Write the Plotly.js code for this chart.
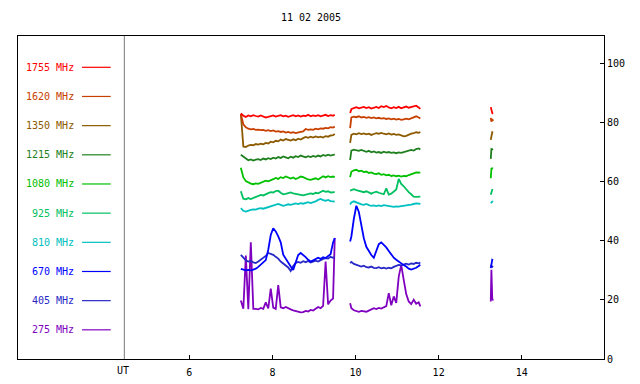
<!DOCTYPE html>
<html>
<head>
<meta charset="utf-8">
<script src="https://cdn.plot.ly/plotly-3.0.1.min.js"></script>
<style>html,body{margin:0;padding:0;background:#fff;}#chart{width:640px;height:384px;}</style>
</head>
<body>
<div id="chart"></div>
<script>
// ---- data ----
const freqLabels = ["1755 MHz","1620 MHz","1350 MHz","1215 MHz","1080 MHz","925 MHz","810 MHz","670 MHz","405 MHz","275 MHz"];

const T1 = [7.24,7.30,7.36,7.42,7.48,7.54,7.60,7.66,7.72,7.78,7.84,7.90,7.96,8.02,8.08,8.14,8.20,8.26,8.32,8.38,8.44,8.50,8.56,8.62,8.68,8.74,8.80,8.86,8.92,8.98,9.04,9.10,9.16,9.22,9.28,9.34,9.40,9.46,9.50];
const T2 = [9.87,9.90,9.96,10.02,10.08,10.14,10.20,10.26,10.32,10.38,10.44,10.50,10.56,10.62,10.68,10.74,10.80,10.86,10.92,10.98,11.04,11.10,11.16,11.22,11.28,11.34,11.40,11.46,11.52,11.56];
const T3 = [13.255,13.27,13.29,13.31];

const f1755_a = [83.2,82.4,82.0,82.5,82.2,82.6,82.3,82.1,82.5,82.2,81.8,82.0,82.3,82.5,82.1,82.4,82.6,82.2,82.4,82.0,82.3,82.6,82.2,82.5,82.1,82.4,82.3,82.7,82.2,82.5,82.3,82.6,82.2,82.4,82.7,82.3,82.6,82.4,82.7];
const f1755_b = [83.3,84.6,85.0,85.3,84.9,85.2,85.4,85.0,85.3,84.8,85.1,85.4,85.0,85.6,85.3,85.7,85.2,84.9,85.3,85.0,85.4,84.9,85.2,85.5,85.1,85.3,85.6,85.8,85.2,84.7];
const f1755_c = [85.3,84.0,83.3,83.1];

const f1620_a = [83.0,79.5,78.5,78.0,77.8,77.9,77.6,77.7,77.5,77.6,77.3,77.5,77.2,77.4,77.0,77.2,76.9,77.1,76.7,76.9,76.6,76.8,76.5,76.8,76.9,77.1,77.9,77.6,77.8,77.6,78.0,77.8,78.1,78.0,78.3,78.1,78.5,78.4,78.7];
const f1620_b = [78.2,81.8,82.1,81.9,82.2,81.8,82.0,81.7,81.9,81.6,81.8,81.5,81.7,81.4,81.6,81.3,81.5,81.2,81.4,81.1,81.3,81.0,81.2,81.4,81.2,81.6,81.9,82.2,81.8,81.5];
const f1620_c = [81.7,80.4,81.3,80.6];

const f1350_a = [83.0,72.0,71.8,72.3,72.5,72.4,72.8,72.6,72.9,72.7,73.2,73.0,73.6,73.4,73.9,73.7,74.3,74.0,74.5,74.2,74.0,74.4,74.1,74.6,74.3,74.8,75.2,74.9,75.3,75.0,75.4,75.1,75.3,75.0,75.5,75.3,75.7,75.8,76.2];
const f1350_b = [73.2,75.9,76.3,76.1,76.5,76.2,76.4,76.1,76.3,75.9,76.2,76.5,76.3,76.6,76.3,76.1,76.4,76.0,76.2,75.9,76.1,75.8,75.4,75.6,76.0,76.3,76.5,76.8,76.6,76.9];
const f1350_c = [74.2,76.4,76.8,76.6];

const f1215_a = [69.2,68.6,67.8,67.3,67.6,67.2,67.5,67.7,67.4,67.9,67.6,68.0,67.7,68.2,67.9,68.4,68.1,68.6,68.3,68.0,68.5,68.2,68.7,68.4,68.9,68.5,68.3,68.7,68.4,68.8,68.5,68.9,68.6,69.1,68.8,69.2,68.9,69.1,69.3];
const f1215_b = [67.4,70.6,70.9,70.7,70.5,70.8,70.4,70.2,70.5,70.0,70.3,69.9,70.1,69.8,70.2,69.9,70.1,69.8,70.0,69.7,70.0,69.8,70.1,70.3,70.5,70.8,70.6,71.1,71.3,71.0];
const f1215_c = [67.8,71.1,71.0,71.1];

const f1080_a = [64.8,61.5,60.3,59.7,59.4,59.2,59.5,59.3,59.7,60.0,60.4,60.2,60.7,60.9,61.3,61.0,61.6,61.3,61.8,61.4,61.1,61.5,61.0,61.3,61.8,61.6,61.2,60.8,60.7,60.9,61.2,60.8,61.4,61.9,61.5,61.9,61.6,61.8,61.6];
const f1080_b = [61.6,63.4,63.9,64.1,63.6,63.8,63.3,63.5,63.0,63.2,62.8,62.6,62.9,62.4,62.6,62.2,62.4,62.0,62.2,61.9,62.1,61.8,62.0,61.9,62.3,62.5,62.9,63.2,63.0,63.1];
const f1080_c = [61.2,64.4,64.6,64.5];

const f925_a = [56.8,54.3,54.1,54.5,54.2,54.6,54.9,55.3,55.6,55.4,55.9,56.2,56.5,56.4,56.9,57.0,56.3,55.8,55.9,56.2,56.4,56.1,56.0,55.7,55.6,55.4,55.7,56.0,56.1,55.9,56.3,56.1,56.6,57.0,56.6,56.8,56.4,56.6,56.5];
const f925_b = [57.0,57.2,57.5,57.2,57.0,56.7,56.5,56.8,56.3,56.0,56.4,56.7,56.3,56.0,55.8,57.8,55.7,56.0,56.6,57.4,61.0,59.3,58.5,57.4,56.5,55.8,55.0,54.9,55.1,55.0];
const f925_c = [55.6,57.0,57.3,57.2];

const f810_a = [51.1,50.2,49.9,50.3,50.5,50.7,50.6,50.9,51.1,50.9,51.2,51.4,51.6,51.9,52.2,52.5,52.2,51.9,52.1,52.4,52.2,52.5,52.7,52.5,52.8,52.6,52.9,53.1,52.8,53.0,53.4,53.9,54.2,53.8,53.6,53.9,53.5,53.4,53.3];
const f810_b = [52.3,53.0,53.4,53.0,52.7,52.4,52.2,52.5,52.1,51.9,52.0,51.8,52.0,51.8,52.1,51.9,51.7,51.6,51.5,51.7,51.6,51.8,51.9,52.1,52.0,52.3,52.5,52.7,52.6,52.5];
const f810_c = [52.8,53.0,53.3,53.2];

const f670_a = [30.5,30.3,30.0,30.2,30.0,30.3,30.6,31.2,31.9,32.6,33.5,37.0,42.0,44.3,43.2,41.5,39.5,35.3,33.8,32.6,31.3,30.2,33.0,35.2,35.9,35.3,34.5,33.6,33.0,33.4,33.8,34.3,33.9,34.5,34.2,34.8,35.5,39.5,41.0];
const f670_b = [39.8,41.5,47.5,51.9,49.8,45.0,40.9,38.0,36.5,35.2,34.3,36.8,38.9,39.5,38.7,37.8,36.6,35.4,34.3,33.6,32.9,32.4,31.8,31.3,30.6,30.3,30.5,30.9,31.5,31.9];
const f670_c = [30.8,32.5,33.6,33.4];

const f405_a = [35.3,34.5,33.4,33.0,33.2,32.7,32.5,33.0,33.6,34.2,34.9,35.9,35.6,35.3,34.6,34.0,33.0,32.3,31.8,31.0,29.8,31.5,32.5,32.9,32.6,33.1,32.8,33.2,32.7,33.0,33.3,33.0,33.6,33.9,34.2,34.0,34.6,34.3,34.5];
const f405_b = [32.5,32.9,32.2,31.9,31.5,31.3,31.6,31.1,31.0,31.3,30.9,30.8,31.1,30.7,30.9,30.6,30.9,30.7,31.2,31.5,31.9,31.7,32.0,32.3,32.0,32.4,32.2,32.6,32.4,32.7];
const f405_c = [31.3,31.6,31.2,31.5];

const f275_a = [19.8,17.0,35.0,16.9,39.5,17.0,17.0,16.8,17.3,17.0,19.2,17.1,23.8,17.4,17.0,25.0,17.5,17.2,17.6,17.1,16.8,16.5,16.2,15.9,15.8,15.9,16.3,16.1,16.6,16.4,17.0,17.6,17.2,18.0,33.0,18.5,19.8,20.5,41.0];
const f275_b = [18.9,17.2,16.5,16.2,16.0,16.3,16.1,16.0,16.4,16.8,17.2,16.9,17.3,17.1,17.6,17.9,22.3,18.2,21.2,19.0,27.9,31.9,26.8,22.0,19.5,18.6,20.1,18.7,19.2,17.8];
const f275_c = [19.5,30.2,20.5,19.8];

const xTickVals = [6,8,10,12,14];
const yTickVals = [0,20,40,60,80,100];

// ---- styles ----
const colors = ["#ff0000","#c84000","#8c5a00","#208020","#00c000","#00c060","#00c0c0","#0000ff","#2828c8","#8000c0"];
const seriesSegs = [
  [f1755_a,f1755_b,f1755_c],[f1620_a,f1620_b,f1620_c],[f1350_a,f1350_b,f1350_c],
  [f1215_a,f1215_b,f1215_c],[f1080_a,f1080_b,f1080_c],[f925_a,f925_b,f925_c],
  [f810_a,f810_b,f810_c],[f670_a,f670_b,f670_c],[f405_a,f405_b,f405_c],[f275_a,f275_b,f275_c]
];
const MONO = "DejaVu Sans Mono, Liberation Mono, monospace";

const xs = [].concat(T1,[null],T2,[null],T3);
const traces = seriesSegs.map((segs,i)=>({
  type:'scatter', mode:'lines', name:freqLabels[i],
  x: xs,
  y: [].concat(segs[0],[null],segs[1],[null],segs[2]),
  line:{color:colors[i], width:1.8, shape:'linear'},
  connectgaps:false, hoverinfo:'skip'
})).reverse();

// legend-like labels on the left of the plot
const legTop = 98.8, legStep = 9.88;
const annotations = freqLabels.map((t,i)=>({
  text:t, x:3.256, y:legTop - i*legStep, xref:'x', yref:'y',
  xanchor:'right', yanchor:'middle', showarrow:false,
  font:{family:MONO, size:10, color:colors[i]}, borderpad:0
}));
annotations.push({text:'UT', x:4.41, y:-0.037, xref:'x', yref:'paper',
  xanchor:'center', yanchor:'middle', showarrow:false,
  font:{family:MONO, size:10, color:'#000'}, borderpad:0});

const shapes = freqLabels.map((t,i)=>({
  type:'line', xref:'x', yref:'y', x0:3.418, x1:4.108,
  y0:legTop - i*legStep, y1:legTop - i*legStep, layer:'above',
  line:{color:colors[i], width:1.2}
}));
shapes.push({type:'line', xref:'x', yref:'paper', x0:4.436, x1:4.436, y0:0, y1:1,
  line:{color:'#7a7a7a', width:1}});

const layout = {
  width:640, height:384,
  margin:{l:18, r:36, t:36, b:25, pad:0},
  paper_bgcolor:'#ffffff', plot_bgcolor:'#ffffff',
  showlegend:false,
  title:{text:'11 02 2005', x:0.486, xref:'container', xanchor:'center',
         y:1-17/384, yref:'container', yanchor:'middle',
         font:{family:MONO, size:10, color:'#000'}},
  xaxis:{range:[1.877,15.98], tickvals:xTickVals, ticktext:xTickVals.map(String),
         ticks:'inside', ticklen:4, tickcolor:'#000', tickwidth:1,
         showline:true, mirror:true, linecolor:'#000', linewidth:1,
         showgrid:false, zeroline:false, ticklabelstandoff:4,
         tickfont:{family:MONO, size:10, color:'#000'}},
  yaxis:{range:[0,109.4], side:'right', tickvals:yTickVals, ticktext:yTickVals.map(String),
         ticks:'inside', ticklen:4, tickcolor:'#000', tickwidth:1,
         showline:true, mirror:true, linecolor:'#000', linewidth:1,
         showgrid:false, zeroline:false,
         tickfont:{family:MONO, size:10, color:'#000'}},
  annotations, shapes
};

Plotly.newPlot('chart', traces, layout, {displayModeBar:false, staticPlot:true});
</script>
</body>
</html>
